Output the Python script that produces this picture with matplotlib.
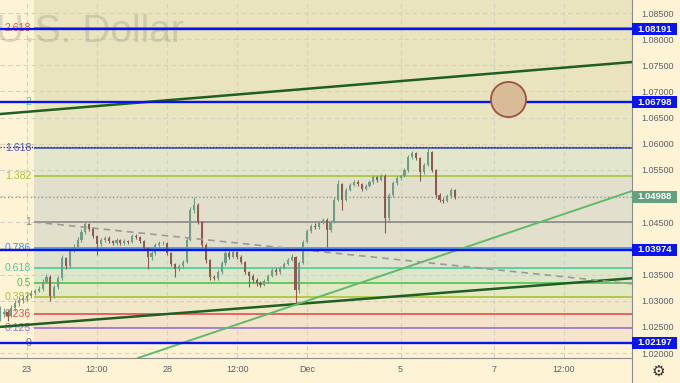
import matplotlib.pyplot as plt
from matplotlib.patches import Rectangle
from matplotlib.lines import Line2D

plt.rcParams['font.family'] = ['Liberation Sans', 'DejaVu Sans']

# 2h candles (x = trading days since Nov 23 00:00)
candle_start = -7 / 12
candle_step = 1 / 12
first_open = 1.0274
closes = [1.02747, 1.02785, 1.02709, 1.02861, 1.02957, 1.03014, 1.03052, 1.03091, 1.03148, 1.03186,
          1.03224, 1.03358, 1.03454, 1.03091, 1.03263, 1.03435, 1.03817, 1.03664, 1.03970, 1.04028,
          1.04161, 1.04314, 1.04467, 1.04372, 1.04238, 1.04085, 1.04161, 1.04200, 1.04142, 1.04104,
          1.04161, 1.04104, 1.04142, 1.04123, 1.04238, 1.04219, 1.04142, 1.04008, 1.03836, 1.03913,
          1.04066, 1.04104, 1.04104, 1.03913, 1.03702, 1.03607, 1.03664, 1.03741, 1.04161, 1.04735,
          1.04830, 1.04505, 1.04066, 1.03779, 1.03454, 1.03435, 1.03550, 1.03722, 1.03913, 1.03836,
          1.03932, 1.03836, 1.03741, 1.03550, 1.03473, 1.03397, 1.03339, 1.03301, 1.03377, 1.03473,
          1.03588, 1.03550, 1.03626, 1.03702, 1.03779, 1.03836, 1.03206, 1.03722, 1.04123, 1.04334,
          1.04429, 1.04410, 1.04486, 1.04544, 1.04353, 1.04505, 1.04926, 1.05232, 1.04926, 1.05117,
          1.05213, 1.05270, 1.05232, 1.05136, 1.05194, 1.05270, 1.05366, 1.05308, 1.05385, 1.04582,
          1.05022, 1.05251, 1.05347, 1.05385, 1.05499, 1.05748, 1.05824, 1.05729, 1.05461, 1.05595,
          1.05843, 1.05499, 1.05022, 1.04926, 1.04907, 1.05002, 1.05117, 1.04988]
highs = [1.0290, 1.0287, 1.0283, 1.0292, 1.0301, 1.0307, 1.0310, 1.0314, 1.0320, 1.0323,
         1.0328, 1.0341, 1.0352, 1.0349, 1.0331, 1.0348, 1.0388, 1.0384, 1.0401, 1.0408,
         1.0421, 1.0437, 1.0450, 1.0449, 1.0440, 1.0426, 1.0420, 1.0424, 1.0423, 1.0416,
         1.0420, 1.0418, 1.0418, 1.0417, 1.0428, 1.0428, 1.0424, 1.0417, 1.0403, 1.0396,
         1.0410, 1.0415, 1.0414, 1.0413, 1.0394, 1.0373, 1.0371, 1.0378, 1.0420, 1.0479,
         1.0498, 1.0486, 1.0452, 1.0410, 1.0380, 1.0349, 1.0358, 1.0376, 1.0396, 1.0395,
         1.0397, 1.0396, 1.0387, 1.0376, 1.0357, 1.0351, 1.0343, 1.0338, 1.0341, 1.0351,
         1.0362, 1.0362, 1.0366, 1.0374, 1.0382, 1.0389, 1.0385, 1.0376, 1.0416, 1.0438,
         1.0447, 1.0449, 1.0453, 1.0459, 1.0458, 1.0455, 1.0498, 1.0530, 1.0526, 1.0515,
         1.0525, 1.0531, 1.0530, 1.0526, 1.0523, 1.0531, 1.0541, 1.0539, 1.0543, 1.0542,
         1.0506, 1.0529, 1.0538, 1.0542, 1.0554, 1.0579, 1.0587, 1.0585, 1.0575, 1.0563,
         1.0594, 1.0586, 1.0552, 1.0505, 1.0496, 1.0504, 1.0515, 1.0514]
lows = [1.0262, 1.0268, 1.0262, 1.0268, 1.0281, 1.0290, 1.0296, 1.0300, 1.0306, 1.0311,
        1.0316, 1.0319, 1.0333, 1.0299, 1.0305, 1.0322, 1.0340, 1.0361, 1.0363, 1.0393,
        1.0399, 1.0412, 1.0428, 1.0433, 1.0419, 1.0388, 1.0404, 1.0412, 1.0410, 1.0406,
        1.0407, 1.0406, 1.0407, 1.0408, 1.0410, 1.0418, 1.0410, 1.0397, 1.0360, 1.0378,
        1.0388, 1.0403, 1.0406, 1.0388, 1.0366, 1.0345, 1.0357, 1.0362, 1.0372, 1.0414,
        1.0468, 1.0446, 1.0402, 1.0373, 1.0340, 1.0340, 1.0340, 1.0352, 1.0369, 1.0380,
        1.0381, 1.0380, 1.0371, 1.0351, 1.0327, 1.0334, 1.0328, 1.0326, 1.0328, 1.0334,
        1.0345, 1.0350, 1.0352, 1.0360, 1.0368, 1.0375, 1.0295, 1.0315, 1.0370, 1.0410,
        1.0430, 1.0438, 1.0438, 1.0446, 1.0403, 1.0432, 1.0448, 1.0490, 1.0474, 1.0490,
        1.0509, 1.0519, 1.0519, 1.0509, 1.0511, 1.0517, 1.0524, 1.0527, 1.0528, 1.0430,
        1.0451, 1.0498, 1.0522, 1.0531, 1.0536, 1.0547, 1.0570, 1.0569, 1.0528, 1.0543,
        1.0557, 1.0546, 1.0496, 1.0488, 1.0486, 1.0489, 1.0497, 1.0495]

tick_pos = [0, 1.5, 3, 4.5, 6, 8, 10, 11.5]
tick_labels = ['23', '12:00', '28', '12:00', 'Dec', '5', '7', '12:00']
price_ticks = [1.020, 1.025, 1.030, 1.035, 1.040, 1.045, 1.050, 1.055,
               1.060, 1.065, 1.070, 1.075, 1.080, 1.085]

# fibonacci retracement
fib_zero = 1.02197
fib_one = 1.044975
fib_start = 0.15
fib_ratios = [0, 0.125, 0.236, 0.382, 0.5, 0.618, 0.786, 1, 1.382, 1.618, 2, 2.618]
fib_names = ['0', '0.125', '0.236', '0.382', '0.5', '0.618', '0.786', '1', '1.382', '1.618', '2', '2.618']
fib_colors = ['#787b86', '#9575cd', '#e0504a', '#a9c23a', '#4cc44c', '#4dc9a0',
              '#3d95e8', '#8a8a8a', '#a4c639', '#4a55b8', '#4dc9a0', '#e0504a']
band_colors = ['#f6e4cc', '#f6e2ca', '#efe7c8', '#e3e9c5', '#dde6c9', '#dde3cc',
               '#e2e0cd', '#e2e0cd', '#e2e6ca', '#e8e5c0', '#e9e4bd', '#e9e4bd']

# horizontal levels with labels on the price scale
blue_levels = [1.08191, 1.06798, 1.03974, 1.02197]
last_price = 1.04988
high_line = 1.0593

# trend lines, two points each (day, price)
upper_channel = [(-0.578, 1.06569), (12.955, 1.07563)]
lower_channel = [(-0.578, 1.02500), (12.955, 1.03430)]
support_line = [(4.347, 1.02500), (12.955, 1.05097)]
dashed_line = [(0.15, 1.04505), (12.955, 1.03323)]
target_circle = (10.30, 1.0686)

bg = '#fff3d6'
x_min, x_max = -0.578, 12.955
y_min, y_max = 1.01905, 1.08749

fig = plt.figure(figsize=(6.8, 3.83), dpi=100, facecolor=bg)
ax = fig.add_axes([0, 25 / 383, 632 / 680, 358 / 383])
ax.set_facecolor(bg)
ax.set_xlim(x_min, x_max)
ax.set_ylim(y_min, y_max)

# fib bands + level lines
levels = [fib_zero + r * (fib_one - fib_zero) for r in fib_ratios]
tops = levels[1:] + [y_max]
for lo, hi, c in zip(levels, tops, band_colors):
    ax.fill_between([fib_start, x_max], lo, hi, color=c, lw=0, zorder=0.5)
for lvl, name, c in zip(levels, fib_names, fib_colors):
    ax.hlines(lvl, fib_start, x_max, color=c, lw=1.2, zorder=2)
    ax.text(fib_start - 0.06, lvl, name, ha='right', va='center', color=c, fontsize=7.6, zorder=2)

# dashed grid
for p in price_ticks:
    ax.axhline(p, color='#d3d0c4', lw=0.8, ls=(0, (4, 3)), zorder=1)
for t in tick_pos:
    ax.axvline(t, color='#d3d0c4', lw=0.8, ls=(0, (4, 3)), zorder=1)

# watermark
ax.text(-4 / 632, 1 - 42 / 358, 'U.S. Dollar', transform=ax.transAxes, fontsize=28,
        color='#7a7a7a', alpha=0.25, ha='left', va='baseline', zorder=1)

# candles
opens = [first_open] + closes[:-1]
for i, (o, h, l, c) in enumerate(zip(opens, highs, lows, closes)):
    x = candle_start + i * candle_step
    col = '#6e9e86' if c >= o else '#8c5a4e'
    ax.vlines(x, l, h, color=col, lw=0.8, zorder=4)
    ax.bar(x, max(abs(c - o), 0.00004), bottom=min(o, c), width=0.045, color=col, lw=0, zorder=4)

ax.axhline(high_line, color='#2b2b55', lw=0.9, ls=(0, (1, 1.5)), zorder=3)
ax.axhline(last_price, color='#5aa9a3', lw=0.9, ls=(0, (1, 2)), zorder=3)

# trend lines
ax.axline(*upper_channel, color='#1f5f22', lw=1.8, zorder=5)
ax.axline(*lower_channel, color='#1f5f22', lw=1.8, zorder=5)
ax.axline(*support_line, color='#5fba6a', lw=1.4, zorder=5)
(x0, y0), (x1, y1) = dashed_line
ax.plot([x0, x1], [y0, y1], color='#9a9a9a', lw=1.2, ls=(0, (4, 3)), zorder=5)

for p in blue_levels:
    ax.axhline(p, color='#0a14e6', lw=1.7, zorder=5)

ax.scatter([target_circle[0]], [target_circle[1]], s=640, facecolor='#d8bb97',
           edgecolor='#a0503f', lw=1.3, zorder=6)

# axes styling
ax.yaxis.tick_right()
ax.set_yticks(price_ticks, ['%.5f' % p for p in price_ticks])
ax.set_xticks(tick_pos, tick_labels)
ax.tick_params(axis='y', length=0, pad=7, labelsize=6.5, labelcolor='#5d606b')
ax.tick_params(axis='x', length=0, pad=5, labelsize=6.5, labelcolor='#5d606b')
for s in ['left', 'top']:
    ax.spines[s].set_visible(False)
for s in ['right', 'bottom']:
    ax.spines[s].set_color('#8a8a8a')
    ax.spines[s].set_linewidth(0.8)


def price_box(p, color):
    ya = (p - y_min) / (y_max - y_min)
    h = 12 / 358
    ax.add_patch(Rectangle((1.0, ya - h / 2), 45 / 632, h, transform=ax.transAxes,
                           facecolor=color, edgecolor='none', clip_on=False, zorder=10))
    ax.text(1.0 + 22.5 / 632, ya, '%.5f' % p, transform=ax.transAxes, ha='center', va='center',
            color='white', fontsize=6.8, fontweight='bold', clip_on=False, zorder=11)


for p in blue_levels:
    price_box(p, '#0a14f0')
price_box(last_price, '#64a27f')

fig.add_artist(Line2D([632 / 680, 632 / 680], [0, 25 / 383], color='#8a8a8a', lw=0.8))
fig.text(658 / 680, 12 / 383, '\u2699', ha='center', va='center', fontsize=11,
         color='#333333', family='DejaVu Sans')

fig.savefig('out.png', dpi=100, facecolor=bg)
